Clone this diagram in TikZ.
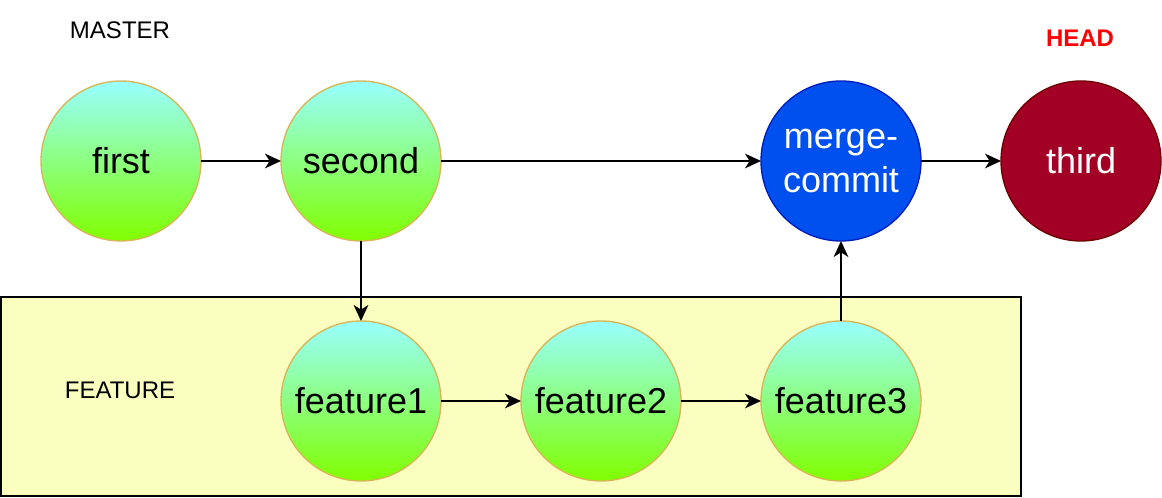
\documentclass[tikz,border=0pt]{standalone}
\usepackage{fontspec}
\setmainfont{Liberation Sans}
\usetikzlibrary{positioning}
\usetikzlibrary{arrows.meta}
\definecolor{gtop}{RGB}{153,255,255}
\definecolor{gbot}{RGB}{128,255,0}
\definecolor{gline}{RGB}{214,182,86}
\definecolor{mfill}{RGB}{0,80,239}
\definecolor{mline}{RGB}{0,29,188}
\definecolor{hfill}{RGB}{162,0,37}
\definecolor{hline}{RGB}{111,0,0}
\definecolor{featfill}{RGB}{250,255,192}
\begin{document}
\begin{tikzpicture}[x=0.75pt, y=-0.75pt, node distance=60pt,
    B/.style={circle, minimum size=120pt, inner sep=0pt, outer sep=0pt, line width=1pt,
        font=\fontsize{27}{32.4}\selectfont},
    C/.style={B, draw=gline, top color=gtop, bottom color=gbot},
    M/.style={B, draw=mline, fill=mfill, text=white, align=center},
    H/.style={B, draw=hline, fill=hfill, text=white},
    L/.style={font=\fontsize{18}{21.6}\selectfont},
    A/.style={-{Stealth[length=12pt, width=11pt, inset=3.5pt]}, line width=1.1pt}]
            \useasboundingbox (0,0) rectangle (1162,498);
            \draw[line width=1.5pt, fill=featfill] (1,297) rectangle (1021,496);
            \node[L] (master) at (120,30) {MASTER};
            \node[L, text=red, font=\fontsize{18}{21.6}\selectfont\bfseries] (head) at (1080,38) {HEAD};
            \node[L] (feature) at (120,390) {FEATURE};
            \node[C] (first) at (121,161) {first};
            \node[C, right = of first] (second) {second};
            \node[M, right = 240pt of second] (merge) {merge-\\commit};
            \node[H, right = of merge] (third) {third};
            \node[C, below = of second] (f_1) {feature1};
            \node[C, right = of f_1] (f_2) {feature2};
            \node[C, right = of f_2] (f_3) {feature3};
            \draw[A] (first) -- (second);
            \draw[A] (second) -- (merge);
            \draw[A] (merge) -- (third);
            \draw[A] (second) -- (f_1);
            \draw[A] (f_1) -- (f_2);
            \draw[A] (f_2) -- (f_3);
            \draw[A] (f_3) -- (merge);
        \end{tikzpicture}
\end{document}
